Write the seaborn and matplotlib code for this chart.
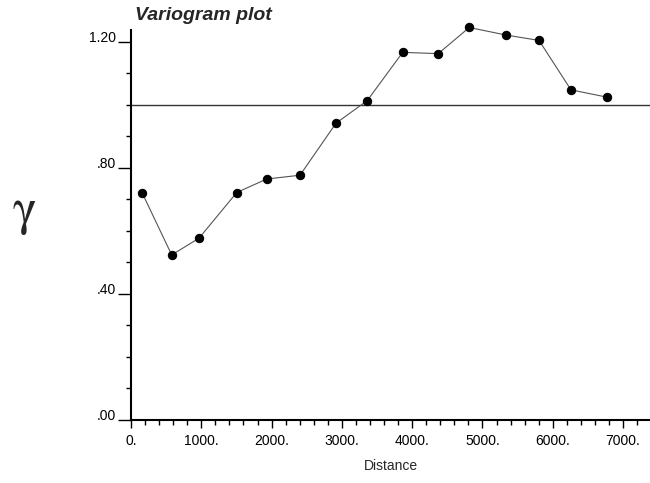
import numpy as np
import pandas as pd
import seaborn as sns
import matplotlib.pyplot as plt
from matplotlib.ticker import MultipleLocator, FixedLocator

lag = [161, 579, 967, 1504, 1930, 2404, 2916, 3361, 3865, 4371, 4812, 5334, 5804, 6259, 6767]
gamma = [0.720, 0.524, 0.577, 0.722, 0.765, 0.777, 0.942, 1.014, 1.167, 1.163,
         1.246, 1.222, 1.205, 1.048, 1.025]
sill = 1.0

x_ticks = [0, 1000, 2000, 3000, 4000, 5000, 6000, 7000]
x_labels = ['0.', '1000.', '2000.', '3000.', '4000.', '5000.', '6000.', '7000.']
y_ticks = [0.0, 0.4, 0.8, 1.2]
y_labels = ['.00', '.40', '.80', '1.20']

df = pd.DataFrame({'Distance': lag, 'gamma': gamma})

sns.set_style('ticks')
plt.rcParams['font.family'] = ['Liberation Sans', 'DejaVu Sans']
plt.rcParams['mathtext.fontset'] = 'stix'

fig = plt.figure(figsize=(6.5, 4.83), dpi=100)
ax = fig.add_axes([131 / 650, 63 / 483, 519 / 650, 390 / 483])

ax.axhline(sill, color='#333333', lw=1.0, zorder=1)
sns.lineplot(data=df, x='Distance', y='gamma', ax=ax, color='#555555', lw=0.8,
             marker='o', markersize=6, markerfacecolor='black',
             markeredgecolor='black', zorder=3, clip_on=False)

ax.set_xlim(0, 7383)
ax.set_ylim(0, 1.238)
ax.xaxis.set_major_locator(FixedLocator(x_ticks))
ax.set_xticklabels(x_labels)
ax.xaxis.set_minor_locator(MultipleLocator(200))
ax.yaxis.set_major_locator(FixedLocator(y_ticks))
ax.set_yticklabels(y_labels)
ax.yaxis.set_minor_locator(MultipleLocator(0.1))

ax.tick_params(axis='both', which='major', width=1, labelsize=10,
               color='black', labelcolor='black')
ax.tick_params(axis='x', which='major', length=6, pad=4)
ax.tick_params(axis='y', which='major', length=9.5, pad=1)
ax.tick_params(axis='both', which='minor', length=3.5, width=1, color='black')
for lbl in ax.get_yticklabels():
    lbl.set_va('baseline')

for s in ['top', 'right']:
    ax.spines[s].set_visible(False)
for s in ['left', 'bottom']:
    ax.spines[s].set_linewidth(1.5)
    ax.spines[s].set_color('black')

ax.set_xlabel('Distance', fontsize=10, labelpad=8)
ax.set_ylabel('')
fig.text(24 / 650, 1 - 214 / 483, r'$\mathrm{\gamma}$', fontsize=36,
         ha='center', va='center')
fig.text(135 / 650, 1 - 15 / 483, 'Variogram plot', fontsize=14,
         fontweight='bold', fontstyle='italic', ha='left', va='center')

plt.savefig('out.png', dpi=100)
